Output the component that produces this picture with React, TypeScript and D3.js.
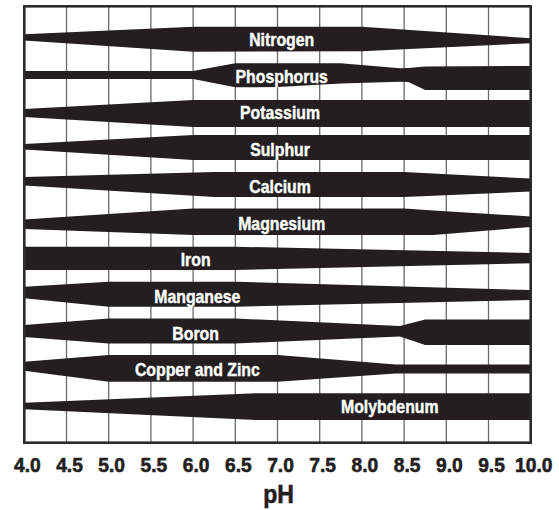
import * as d3 from "d3";

const nutrients = [
  "Nitrogen",
  "Phosphorus",
  "Potassium",
  "Sulphur",
  "Calcium",
  "Magnesium",
  "Iron",
  "Manganese",
  "Boron",
  "Copper and Zinc",
  "Molybdenum",
];

const phTicks = [4.0, 4.5, 5.0, 5.5, 6.0, 6.5, 7.0, 7.5, 8.0, 8.5, 9.0, 9.5, 10.0];

// where each name sits along the pH axis
const labelPh = [7.05, 7.05, 7.03, 7.03, 7.03, 7.05, 6.03, 6.05, 6.03, 6.05, 8.33];

// [pH, extent above the row line, extent below it] (1 = full availability)
const nitrogen = [[4.0, 0.42, 0.08], [6.0, 1.02, 0.98], [8.0, 1.02, 0.94], [10.0, 0.1, 0.3]];
const phosphorus = [
  [4.0, 0.42, 0.22], [6.0, 0.42, 0.22], [6.5, 1.03, 0.89], [7.0, 1.03, 0.86],
  [7.75, 1.03, 0.58], [8.45, 0.63, 0.44], [8.55, 0.66, 0.46], [8.75, 0.78, 1.1], [10.0, 0.82, 1.1],
];
const potassium = [[4.0, 0.31, 0.33], [6.0, 1.03, 1.13], [10.0, 1.03, 1.13]];
const sulphur = [[4.0, 0.45, 0.0], [6.0, 1.17, 0.83], [10.0, 1.17, 0.83]];
const calcium = [[4.0, 0.74, -0.06], [6.25, 1.14, 0.86], [8.5, 1.14, 0.86], [10.0, 0.62, 0.42]];
const magnesium = [[4.0, 0.28, 0.48], [6.0, 1.16, 0.96], [8.5, 1.16, 0.96], [8.85, 1.01, 0.96], [10.0, 0.52, 0.32]];
const iron = [[4.0, 1.04, 0.82], [6.5, 1.04, 0.82], [10.0, 0.54, 0.29]];
const manganese = [[4.0, 0.78, 0.15], [5.0, 1.18, 0.82], [6.5, 1.18, 0.82], [10.0, 0.51, 0.29]];
const boron = [
  [4.0, 0.65, 0.31], [5.0, 1.17, 0.83], [6.5, 1.17, 0.83], [8.45, 0.57, 0.27],
  [8.75, 1.09, 0.95], [10.0, 1.09, 0.95],
];
const copperZinc = [[4.0, 0.65, 0.07], [5.0, 1.18, 0.95], [7.0, 1.18, 0.95], [8.4, 0.42, 0.3], [10.0, 0.42, 0.3]];
const molybdenum = [[4.0, 0.3, 0.22], [6.75, 1.06, 1.08], [10.0, 1.06, 1.08]];

const bands = [
  nitrogen, phosphorus, potassium, sulphur, calcium, magnesium,
  iron, manganese, boron, copperZinc, molybdenum,
];

const INK = "#231f20";
const FONT = "'Liberation Sans', Arial, sans-serif";

export default function App() {
  const width = 559;
  const height = 510;
  const left = 24.3;
  const right = 530.7;
  const top = 6.3;
  const bottom = 442.7;

  const x = d3.scaleLinear().domain([4, 10]).range([left, right]);
  const y = d3.scalePoint<string>().domain(nutrients).range([39.5, 406.5]);
  const w = d3.scaleLinear().domain([0, 1]).range([0, 12.5]);

  // condensed look: squeeze the bold sans horizontally
  const squeeze = (cx: number, cy: number, k: number) =>
    `translate(${cx},${cy}) scale(${k},1)`;

  return (
    <svg
      width={width}
      height={height}
      style={{ position: "absolute", left: 0, top: 0, background: "#fff" }}
    >
      {/* vertical grid */}
      {phTicks.slice(1, -1).map((t) => (
        <line
          key={t}
          x1={x(t)}
          x2={x(t)}
          y1={top}
          y2={bottom}
          stroke="#6a6a6a"
          strokeWidth={1.3}
        />
      ))}

      {/* availability bands */}
      {bands.map((pts, i) => {
        const cy = y(nutrients[i])!;
        const area = d3
          .area<number[]>()
          .x((d) => x(d[0]))
          .y0((d) => cy + w(d[2]))
          .y1((d) => cy - w(d[1]));
        return <path key={nutrients[i]} d={area(pts) ?? ""} fill={INK} />;
      })}

      {/* band names */}
      {nutrients.map((n, i) => (
        <text
          key={n}
          transform={squeeze(x(labelPh[i]), y(n)! + 6.5, 0.88)}
          textAnchor="middle"
          fill="#fff"
          stroke="#fff"
          strokeWidth={0.4}
          fontFamily={FONT}
          fontWeight="bold"
          fontSize={18}
        >
          {n}
        </text>
      ))}

      {/* frame */}
      <rect
        x={left}
        y={top}
        width={right - left}
        height={bottom - top}
        fill="none"
        stroke="#2b2b2b"
        strokeWidth={2.6}
      />

      {/* pH axis */}
      {phTicks.map((t) => (
        <text
          key={t}
          transform={squeeze(x(t) + 3, 472, 0.96)}
          textAnchor="middle"
          fill={INK}
          stroke={INK}
          strokeWidth={0.6}
          fontFamily={FONT}
          fontWeight="bold"
          fontSize={20}
        >
          {t.toFixed(1)}
        </text>
      ))}
      <text
        transform={squeeze(x(7) + 1, 503, 0.92)}
        textAnchor="middle"
        fill={INK}
        stroke={INK}
        strokeWidth={0.6}
        fontFamily={FONT}
        fontWeight="bold"
        fontSize={25}
      >
        pH
      </text>
    </svg>
  );
}
